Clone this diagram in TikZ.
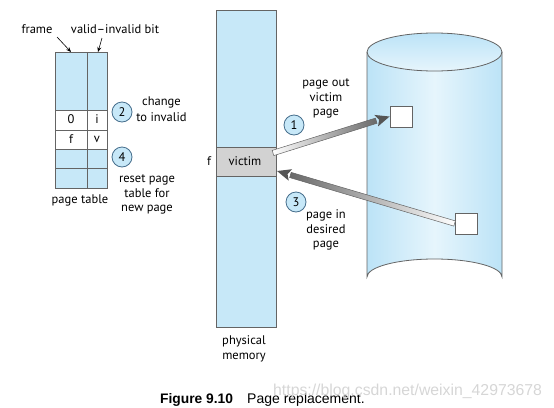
\documentclass[tikz,border=0pt]{standalone}
\usepackage{fontspec}
\setmainfont{PT Sans}
\newfontfamily\capfont{Liberation Sans}
\usetikzlibrary{calc,arrows.meta}
\definecolor{memblue}{RGB}{199,232,248}
\definecolor{edgegray}{RGB}{100,100,100}
\definecolor{victimgray}{RGB}{210,210,210}
\definecolor{circedge}{RGB}{70,110,140}
\definecolor{cyldark}{RGB}{188,227,247}
\definecolor{cyllight}{RGB}{230,245,252}
\definecolor{arrdark}{RGB}{85,85,85}
\definecolor{shaftdark}{RGB}{105,105,105}
\tikzset{
  x=1pt, y=-1pt,
  lbl/.style={font=\fontsize{12.5}{14.5}\selectfont, inner sep=0pt, align=center},
  stepnum/.style={circle, draw=circedge, fill=memblue, minimum size=20pt, inner sep=0pt, font=\fontsize{12.5}{14.5}\selectfont, line width=0.8pt},
  blk/.style={draw=edgegray, line width=0.9pt},
  diskbox/.style={draw=edgegray, fill=white, line width=0.8pt, minimum width=22pt, minimum height=21pt, inner sep=0pt},
  ptr/.style={-{Stealth[length=5pt,width=4pt]}, line width=0.6pt}
}
\begin{document}
\begin{tikzpicture}
\useasboundingbox (0,0) rectangle (554,407);
% ---------- page table ----------
\fill[memblue] (55,52) rectangle (107,110);
\fill[white] (55,110) rectangle (107,149);
\fill[memblue] (55,149) rectangle (107,188);
\draw[blk] (55,52) rectangle (107,188);
\draw[blk] (87,52) -- (87,188);
\foreach \yy in {110,130,149,168} \draw[blk] (55,\yy) -- (107,\yy);
\node[lbl] (z0) at (71,119.5) {0};
\node[lbl] (zi) at (97,119.5) {i};
\node[lbl] (zf) at (71,139) {f};
\node[lbl] (zv) at (97,139) {v};
\coordinate (ptframe) at (71,52);
\coordinate (ptvalid) at (98,52);
\node[lbl] (frame) at (37,29) {frame};
\node[lbl] (valid) at (115,29) {valid–invalid bit};
\coordinate (fr0) at (57,37);
\coordinate (va0) at (102,38);
\draw[ptr] (fr0) -- (ptframe);
\draw[ptr] (va0) -- (ptvalid);
\node[lbl] (ptlbl) at (80,200) {page table};
\node[stepnum] (s2) at (122,112) {2};
\node[lbl] (chg) at (161.5,109) {change\\[1pt]to invalid};
\node[stepnum] (s4) at (122,157) {4};
\node[lbl] (reset) at (147,194.5) {reset page\\table for\\new page};
% ---------- physical memory ----------
\fill[memblue] (216,10) rectangle (276,327);
\fill[victimgray] (216,147) rectangle (276,176);
\draw[blk] (216,10) rectangle (276,327);
\draw[blk] (216,147) -- (276,147) (216,176) -- (276,176);
\node[lbl] (victim) at (245,161.5) {victim};
\node[lbl] (fl) at (209,161.5) {f};
\node[lbl] (phys) at (244,349) {physical\\memory};
% ---------- disk ----------
\shade[left color=cyldark, right color=cyldark, middle color=cyllight]
  (367,52) -- (367,277) arc[start angle=180, end angle=360, x radius=67.5, y radius=18] -- (502,52) -- cycle;
\shade[top color=cyldark, bottom color=cyllight]
  (434.5,52) ellipse[x radius=67.5, y radius=19];
\draw[edgegray, line width=0.8pt] (434.5,52) ellipse[x radius=67.5, y radius=19];
\draw[edgegray, line width=0.8pt] (367,52) -- (367,277) arc[start angle=180, end angle=360, x radius=67.5, y radius=18] -- (502,52);
\node[diskbox] (d1) at (401,116.5) {};
\node[diskbox] (d2) at (466,223.5) {};
% ---------- labels ----------
\node[stepnum] (s1) at (294,125) {1};
\node[lbl] (pout) at (326,98.5) {page out\\victim\\page};
\node[stepnum] (s3) at (296,202) {3};
\node[lbl] (pin) at (326,230) {page in\\desired\\page};
% ---------- thick arrows ----------
\coordinate (A1) at (273,153);
\coordinate (B1) at (d1.west);
\coordinate (A3) at (d2.west);
\coordinate (B3) at (277,171);
\foreach \A/\B/\lc/\rc in {A1/B1/white/shaftdark, A3/B3/shaftdark/white}{
  \coordinate (H) at ($(\B)!14pt!(\A)$);
  \shade[left color=\lc, right color=\rc, draw=edgegray, line width=0.5pt]
    ($(\A)!2.7pt!90:(\B)$) -- ($(H)!2.7pt!90:(\B)$) -- ($(H)!2.7pt!-90:(\B)$) -- ($(\A)!2.7pt!-90:(\B)$) -- cycle;
  \fill[arrdark] (\B) -- ($(H)!6pt!90:(\B)$) -- ($(\B)!11pt!(\A)$) -- ($(H)!6pt!-90:(\B)$) -- cycle;
}
% ---------- caption ----------
\node[font=\capfont\bfseries\fontsize{13.8}{16}\selectfont, anchor=base west, inner sep=0pt] (fig) at (160,403) {Figure 9.10};
\node[font=\capfont\fontsize{14}{16}\selectfont, anchor=base west, inner sep=0pt] (cap) at (247,403) {Page replacement.};
\node[font=\capfont\fontsize{15.8}{18}\selectfont, text=black!16, anchor=base west, inner sep=0pt] (wm) at (273,395) {https://blog.csdn.net/weixin\_42973678};
\end{tikzpicture}
\end{document}
